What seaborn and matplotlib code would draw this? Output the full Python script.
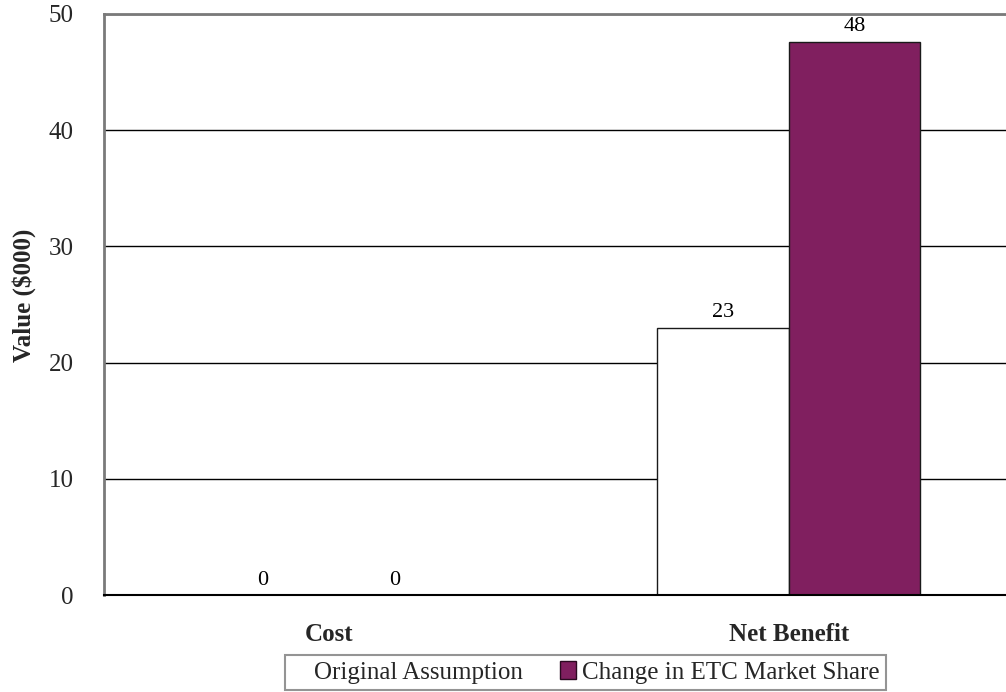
import matplotlib
matplotlib.use("Agg")
import matplotlib.pyplot as plt
from matplotlib.patches import Patch
import seaborn as sns
import pandas as pd

categories = ["Cost", "Net Benefit"]
series_names = ["Original Assumption", "Change in ETC Market Share"]
original_values = [0, 23.0]
change_values = [0, 47.6]
y_ticks = [0, 10, 20, 30, 40, 50]

colors = ["#FFFFFF", "#801F5F"]

df = pd.DataFrame({
    "category": categories * 2,
    "series": [series_names[0]] * 2 + [series_names[1]] * 2,
    "value": original_values + change_values,
})

sns.set_theme(style="white")
plt.rcParams["font.family"] = ["Liberation Serif", "DejaVu Serif"]

fig = plt.figure(figsize=(10.06, 6.92), dpi=100)
ax = fig.add_axes([0.1034, 0.140, 0.8966, 0.840])

sns.barplot(data=df, x="category", y="value", hue="series",
            order=categories, hue_order=series_names,
            palette=colors, saturation=1, width=0.572, gap=0, dodge=True,
            edgecolor="#1a1a1a", linewidth=1.0, legend=False, ax=ax)

for cont in ax.containers:
    ax.bar_label(cont, fmt="%.0f", padding=4, fontsize=16, color="black")

ax.set_xlim(-0.489, 1.472)
ax.set_ylim(0, 50)
ax.set_yticks(y_ticks)
ax.yaxis.grid(True, color="black", linewidth=1.0)
ax.set_axisbelow(True)

# tick mark on the category boundary, names centred under each group
ax.set_xticks([0.5])
ax.set_xticklabels([""])
ax.set_xticks([0, 1], minor=True)
ax.set_xticklabels(categories, minor=True, fontsize=18, fontweight="bold")
ax.tick_params(axis="x", which="major", direction="in", length=9,
               width=1.2, color="#808080")
ax.tick_params(axis="x", which="minor", length=0, pad=20)
ax.tick_params(axis="y", direction="in", length=9, width=1.2,
               color="black", labelsize=18, pad=22)

ax.set_xlabel("")
ax.set_ylabel("Value ($000)", fontsize=18, fontweight="bold", labelpad=9)
ax.yaxis.label.set_y(0.515)

for side in ["left", "top"]:
    ax.spines[side].set_visible(True)
    ax.spines[side].set_color("#7a7a7a")
    ax.spines[side].set_linewidth(2.0)
ax.spines["bottom"].set_color("black")
ax.spines["bottom"].set_linewidth(1.5)
ax.spines["right"].set_visible(False)

handles = [Patch(facecolor=colors[0], edgecolor=colors[0]),
           Patch(facecolor=colors[1], edgecolor="#2a0a20", linewidth=1.0)]
leg = fig.legend(handles, series_names, loc="upper left",
                 bbox_to_anchor=(285 / 1006, 1 - 655 / 692), ncol=2,
                 fontsize=18, frameon=True, fancybox=False,
                 edgecolor="#7a7a7a", handlelength=0.65, handleheight=0.72,
                 handletextpad=0.24, columnspacing=1.5, borderpad=0.25,
                 borderaxespad=0)
leg.get_frame().set_linewidth(1.5)

fig.savefig("out.png", dpi=100, facecolor="white")
